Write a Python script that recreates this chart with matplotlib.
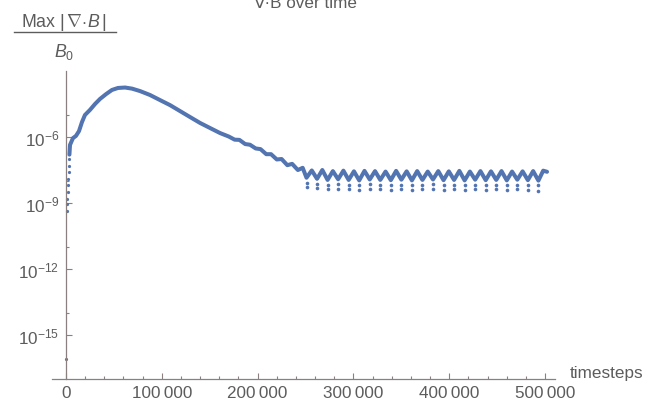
"""Max |div B| / B0 over time, log scale."""

import matplotlib
matplotlib.use("Agg")
import matplotlib.pyplot as plt
import numpy as np
from matplotlib.lines import Line2D
from matplotlib.ticker import FixedLocator, FuncFormatter

# start-up points (drawn as loose dots)
t_start = [0, 900, 1200, 1500, 1800, 2100, 2400, 2700, 3000, 3300]
log_start = [-16.1, -9.35, -9.05, -8.8, -8.5, -8.2, -7.9, -7.6, -7.3, -7.0]

# main smooth curve (log10 of Max|div B|/B0)
t_curve = [3600, 4200, 7300, 10400, 13600, 16700, 19800, 25000, 30300, 35500,
           41800, 48000, 54300, 61600, 68900, 77200, 87700, 98100, 108600,
           119000, 129400, 139900, 150300, 160800, 170000, 176000, 181000,
           187000, 192000, 198000, 203000, 209000, 214000, 220000, 225000,
           231000, 236000, 242000, 247000]
log_curve = [-6.8, -6.36, -6.05, -5.95, -5.73, -5.32, -5.0, -4.77, -4.5, -4.27,
             -4.05, -3.86, -3.77, -3.75, -3.8, -3.91, -4.09, -4.32, -4.55,
             -4.82, -5.09, -5.36, -5.59, -5.82, -5.98, -6.12, -6.13,
             -6.32, -6.35, -6.52, -6.55, -6.78, -6.78, -7.02, -7.0,
             -7.28, -7.22, -7.5, -7.4]

# oscillating tail: cusps (low points of the joined line) and peaks
t_cusp = [251000, 262000, 273000, 284000, 295000, 306000, 317000, 328000,
          339000, 350000, 361000, 372000, 383000, 394000, 405000, 416000,
          427000, 438000, 449000, 460000, 471000, 482000, 493000]
log_cusp = [-7.85, -7.9, -7.95, -7.92, -7.95, -7.97, -7.93, -7.95, -7.96,
            -7.94, -7.97, -7.95, -7.93, -7.96, -7.95, -7.97, -7.94, -7.96,
            -7.95, -7.97, -7.94, -7.96, -7.98]
t_peak = [256500, 267500, 278500, 289500, 300500, 311500, 322500, 333500,
          344500, 355500, 366500, 377500, 388500, 399500, 410500, 421500,
          432500, 443500, 454500, 465500, 476500, 487500, 498000, 502000]
log_peak = [-7.52, -7.5, -7.55, -7.53, -7.56, -7.54, -7.55, -7.57, -7.54,
            -7.56, -7.55, -7.57, -7.55, -7.56, -7.54, -7.57, -7.55, -7.56,
            -7.55, -7.57, -7.56, -7.55, -7.53, -7.58]

# sparse points below each cusp
log_dip_1 = [-8.08, -8.12, -8.16, -8.14, -8.16, -8.18, -8.14, -8.16, -8.18,
             -8.16, -8.18, -8.16, -8.14, -8.18, -8.16, -8.18, -8.16, -8.18,
             -8.16, -8.18, -8.16, -8.18, -8.2]
log_dip_2 = [-8.28, -8.32, -8.38, -8.36, -8.38, -8.4, -8.36, -8.38, -8.4,
             -8.38, -8.4, -8.38, -8.36, -8.4, -8.38, -8.4, -8.38, -8.4,
             -8.38, -8.4, -8.38, -8.4, -8.45]

BLUE = "#5274b0"
AXIS = "#8a8080"
TEXT = "#5c5c5c"

plt.rcParams["font.family"] = ["Liberation Sans", "DejaVu Sans"]
plt.rcParams["mathtext.fontset"] = "custom"
plt.rcParams["mathtext.rm"] = "Liberation Sans"
plt.rcParams["mathtext.it"] = "Liberation Sans:italic"

fig = plt.figure(figsize=(6.45, 4.06), dpi=100)
ax = fig.add_axes([0.080, 0.064, 0.780, 0.7586])

tail_t = np.array(t_cusp + t_peak)
tail_v = np.array(log_cusp + log_peak)
order = np.argsort(tail_t)
line_t = np.concatenate([t_curve, tail_t[order]])
line_v = np.concatenate([log_curve, tail_v[order]])

ax.plot(line_t, 10.0 ** line_v, color=BLUE, lw=2.9, solid_capstyle="round",
        solid_joinstyle="round")
ax.plot(t_start, 10.0 ** np.array(log_start), "o", color=BLUE, ms=2.3, mew=0)
dip_t = np.array(t_cusp + t_cusp)
dip_v = np.array(log_dip_1 + log_dip_2)
ax.plot(dip_t, 10.0 ** dip_v, "o", color=BLUE, ms=2.6, mew=0)

ax.set_yscale("log")
ax.set_xlim(-15000, 510000)
ax.set_ylim(1e-17, 1e-3)

ax.spines["top"].set_visible(False)
ax.spines["right"].set_visible(False)
ax.spines["left"].set_position(("data", 0))
for side in ("left", "bottom"):
    ax.spines[side].set_color(AXIS)
    ax.spines[side].set_linewidth(0.9)

ax.xaxis.set_major_locator(FixedLocator([0, 100000, 200000, 300000, 400000, 500000]))
ax.xaxis.set_minor_locator(FixedLocator(np.arange(0, 500001, 20000)))
ax.xaxis.set_major_formatter(
    FuncFormatter(lambda v, _: f"{int(v):,}".replace(",", "\u2009")))
ax.yaxis.set_major_locator(FixedLocator([1e-15, 1e-12, 1e-9, 1e-6]))
ax.yaxis.set_minor_locator(FixedLocator([1e-14, 1e-11, 1e-8, 1e-5]))
ax.yaxis.set_major_formatter(
    FuncFormatter(lambda v, _: f"$10^{{{int(round(np.log10(v)))}}}$"))
ax.yaxis.set_minor_formatter(FuncFormatter(lambda v, _: ""))

ax.tick_params(which="both", direction="in", color=AXIS, width=0.8,
               labelcolor=TEXT, labelsize=12.3)
ax.tick_params(which="major", length=4)
ax.tick_params(which="minor", length=2.5)
ax.tick_params(axis="x", pad=4)
ax.tick_params(axis="y", pad=5)

fig.text(0.473, 0.980, "\u2207\u00b7B over time", ha="center", va="baseline",
         color=TEXT, fontsize=12.3)
fig.text(0.884, 0.081, "timesteps", ha="left", va="center", color=TEXT,
         fontsize=12.3)
fig.text(0.099, 0.945, r"Max $|\,\nabla\!\cdot\! B\,|$", ha="center",
         va="center", color=TEXT, fontsize=12.8)
fig.add_artist(Line2D([0.021, 0.180], [0.918, 0.918], color=TEXT, lw=1.0))
fig.text(0.099, 0.872, r"$B_0$", ha="center", va="center", color=TEXT,
         fontsize=12.8)

fig.savefig("out.png", dpi=100)
plt.close(fig)
